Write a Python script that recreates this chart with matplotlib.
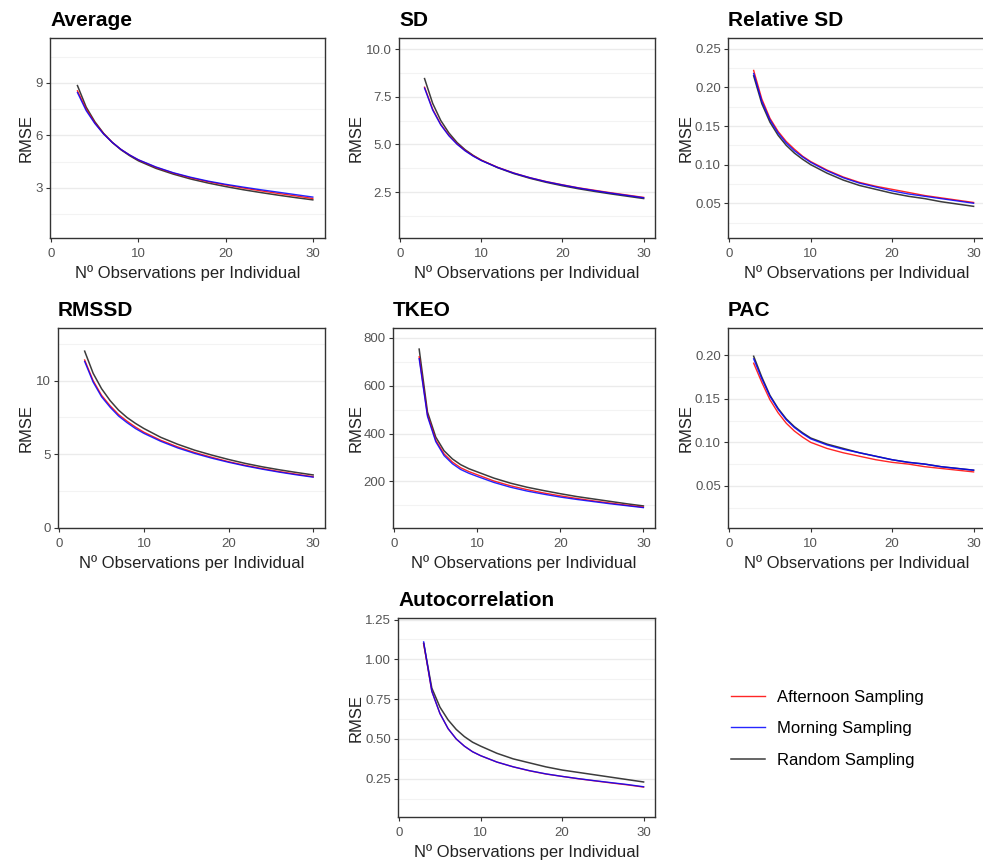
import numpy as np
import matplotlib.pyplot as plt

plt.rcParams['font.family'] = ['Liberation Sans', 'DejaVu Sans']

# number of observations per individual
n_obs = [3, 4, 5, 6, 7, 8, 9, 10, 12, 14, 16, 18, 20, 22, 24, 26, 28, 30]

avg_afternoon = [8.55, 7.50, 6.72, 6.10, 5.60, 5.20, 4.88, 4.60, 4.18, 3.85, 3.58, 3.36, 3.17, 3.00, 2.84, 2.69, 2.55, 2.40]
avg_morning = [8.45, 7.42, 6.68, 6.08, 5.60, 5.20, 4.88, 4.61, 4.20, 3.87, 3.61, 3.39, 3.21, 3.05, 2.90, 2.76, 2.62, 2.48]
avg_random = [8.85, 7.62, 6.78, 6.12, 5.60, 5.18, 4.84, 4.55, 4.12, 3.79, 3.51, 3.28, 3.08, 2.90, 2.74, 2.59, 2.45, 2.32]

sd_afternoon = [8.00, 6.85, 6.05, 5.48, 5.03, 4.68, 4.40, 4.17, 3.80, 3.50, 3.25, 3.05, 2.88, 2.72, 2.59, 2.46, 2.34, 2.22]
sd_morning = [7.95, 6.80, 6.02, 5.45, 5.01, 4.66, 4.38, 4.15, 3.79, 3.49, 3.25, 3.04, 2.87, 2.71, 2.57, 2.44, 2.32, 2.20]
sd_random = [8.45, 7.15, 6.25, 5.60, 5.10, 4.72, 4.42, 4.17, 3.78, 3.47, 3.22, 3.01, 2.83, 2.67, 2.53, 2.40, 2.28, 2.16]

rsd_afternoon = [0.222, 0.185, 0.160, 0.143, 0.130, 0.120, 0.111, 0.104, 0.093, 0.084, 0.077, 0.072, 0.068, 0.064, 0.060, 0.057, 0.054, 0.051]
rsd_morning = [0.218, 0.182, 0.158, 0.141, 0.128, 0.118, 0.110, 0.103, 0.092, 0.083, 0.076, 0.071, 0.066, 0.062, 0.059, 0.056, 0.053, 0.050]
rsd_random = [0.215, 0.179, 0.155, 0.138, 0.125, 0.115, 0.107, 0.100, 0.089, 0.080, 0.073, 0.068, 0.063, 0.059, 0.056, 0.052, 0.049, 0.046]

rmssd_afternoon = [11.4, 10.0, 9.0, 8.3, 7.7, 7.25, 6.85, 6.5, 5.95, 5.5, 5.12, 4.8, 4.5, 4.25, 4.03, 3.83, 3.65, 3.48]
rmssd_morning = [11.3, 9.9, 8.9, 8.2, 7.6, 7.15, 6.75, 6.42, 5.88, 5.43, 5.06, 4.74, 4.46, 4.21, 3.99, 3.79, 3.61, 3.45]
rmssd_random = [12.0, 10.5, 9.45, 8.65, 8.0, 7.5, 7.1, 6.75, 6.15, 5.68, 5.28, 4.95, 4.65, 4.38, 4.15, 3.95, 3.77, 3.6]

tkeo_afternoon = [720, 478, 372, 315, 281, 257, 241, 228, 202, 182, 166, 152, 140, 129, 119, 110, 101, 93]
tkeo_morning = [712, 472, 366, 308, 274, 250, 234, 221, 196, 176, 160, 147, 135, 125, 116, 107, 99, 91]
tkeo_random = [752, 490, 385, 328, 294, 270, 253, 240, 214, 193, 176, 162, 149, 137, 127, 117, 107, 98]

pac_afternoon = [0.191, 0.169, 0.149, 0.134, 0.122, 0.113, 0.106, 0.100, 0.093, 0.088, 0.084, 0.080, 0.077, 0.075, 0.072, 0.070, 0.068, 0.066]
pac_morning = [0.196, 0.173, 0.153, 0.138, 0.126, 0.117, 0.110, 0.104, 0.097, 0.092, 0.088, 0.084, 0.080, 0.077, 0.075, 0.072, 0.070, 0.068]
pac_random = [0.199, 0.175, 0.154, 0.139, 0.127, 0.118, 0.111, 0.105, 0.098, 0.093, 0.088, 0.084, 0.080, 0.077, 0.075, 0.072, 0.070, 0.068]

ac_afternoon = [1.10, 0.80, 0.66, 0.565, 0.50, 0.455, 0.42, 0.395, 0.355, 0.325, 0.30, 0.28, 0.265, 0.25, 0.237, 0.224, 0.212, 0.198]
ac_morning = [1.11, 0.80, 0.66, 0.565, 0.50, 0.455, 0.42, 0.395, 0.355, 0.325, 0.301, 0.281, 0.265, 0.251, 0.238, 0.226, 0.214, 0.200]
ac_random = [1.10, 0.82, 0.70, 0.62, 0.56, 0.515, 0.48, 0.455, 0.41, 0.375, 0.35, 0.325, 0.305, 0.29, 0.275, 0.26, 0.245, 0.23]

x_ticks = [0, 10, 20, 30]

# title, series, y-limits, major ticks, tick labels, minor grid
panels = [
    ('Average', avg_afternoon, avg_morning, avg_random, (0.14, 11.57),
     [3, 6, 9], ['3', '6', '9'], [1.5, 4.5, 7.5, 10.5]),
    ('SD', sd_afternoon, sd_morning, sd_random, (0.09, 10.58),
     [2.5, 5, 7.5, 10], ['2.5', '5.0', '7.5', '10.0'], [1.25, 3.75, 6.25, 8.75]),
    ('Relative SD', rsd_afternoon, rsd_morning, rsd_random, (0.005, 0.264),
     [0.05, 0.10, 0.15, 0.20, 0.25], ['0.05', '0.10', '0.15', '0.20', '0.25'],
     [0.025, 0.075, 0.125, 0.175, 0.225]),
    ('RMSSD', rmssd_afternoon, rmssd_morning, rmssd_random, (0, 13.57),
     [0, 5, 10], ['0', '5', '10'], [2.5, 7.5, 12.5]),
    ('TKEO', tkeo_afternoon, tkeo_morning, tkeo_random, (6, 840),
     [200, 400, 600, 800], ['200', '400', '600', '800'], [100, 300, 500, 700]),
    ('PAC', pac_afternoon, pac_morning, pac_random, (0.0015, 0.2315),
     [0.05, 0.10, 0.15, 0.20], ['0.05', '0.10', '0.15', '0.20'],
     [0.025, 0.075, 0.125, 0.175]),
    ('Autocorrelation', ac_afternoon, ac_morning, ac_random, (0.01, 1.26),
     [0.25, 0.50, 0.75, 1.00, 1.25], ['0.25', '0.50', '0.75', '1.00', '1.25'],
     [0.125, 0.375, 0.625, 0.875, 1.125]),
]

# panel boxes in pixels: left, top, right, bottom, and left edge of the cell
boxes = [
    (50, 38, 325, 238, 0),
    (399, 38, 655, 238, 330),
    (728, 38, 985, 238, 660),
    (58, 328, 325, 528, 0),
    (393, 328, 655, 528, 330),
    (728, 328, 985, 528, 660),
    (398, 618, 655, 817, 330),
]

W, H = 983, 863
fig = plt.figure(figsize=(W / 100, H / 100), dpi=100)

for (title, aft, mor, rnd, ylim, yt, ytl, ymin), (l, t, r, b, cell) in zip(panels, boxes):
    ax = fig.add_axes([l / W, 1 - b / H, (r - l) / W, (b - t) / H])
    h_rnd, = ax.plot(n_obs, rnd, color='#1a1a1a', lw=1.1, alpha=0.85, label='Random Sampling')
    h_aft, = ax.plot(n_obs, aft, color='#ff0000', lw=1.0, alpha=0.85, label='Afternoon Sampling')
    h_mor, = ax.plot(n_obs, mor, color='#0000ff', lw=1.0, alpha=0.85, label='Morning Sampling')

    ax.set_xlim(-0.15, 31.4)
    ax.set_ylim(*ylim)
    ax.set_xticks(x_ticks)
    ax.set_yticks(yt)
    ax.set_yticklabels(ytl)
    ax.set_yticks(ymin, minor=True)
    ax.set_axisbelow(True)
    ax.grid(axis='y', which='major', color='#ebebeb', lw=1.0)
    ax.grid(axis='y', which='minor', color='#f3f3f3', lw=0.8)
    ax.tick_params(which='minor', length=0)
    ax.tick_params(which='major', length=3, width=0.8, color='#333333',
                   labelsize=9.5, labelcolor='#555555')
    ax.tick_params(axis='x', pad=4.5)
    ax.tick_params(axis='y', pad=2.2)
    for sp in ax.spines.values():
        sp.set_color('#333333')
        sp.set_linewidth(1.0)

    ax.set_xlabel('Nº Observations per Individual', fontsize=12, color='#222222', labelpad=3.5)
    ax.set_ylabel('RMSE', fontsize=12, color='#222222')
    ax.yaxis.set_label_coords((cell + 34 - l) / (r - l), 0.5)

    ax.annotate(title, xy=(0, 1), xycoords='axes fraction', xytext=(0, 8.5),
                textcoords='offset points', fontsize=15, fontweight='bold',
                ha='left', va='baseline')

fig.legend([h_aft, h_mor, h_rnd],
           ['Afternoon Sampling', 'Morning Sampling', 'Random Sampling'],
           loc='upper left', bbox_to_anchor=(731 / W, 1 - 690 / H),
           frameon=False, fontsize=12, handlelength=2.05, handletextpad=0.72,
           labelspacing=0.98, borderpad=0, borderaxespad=0)

fig.savefig('out.png', dpi=100)
